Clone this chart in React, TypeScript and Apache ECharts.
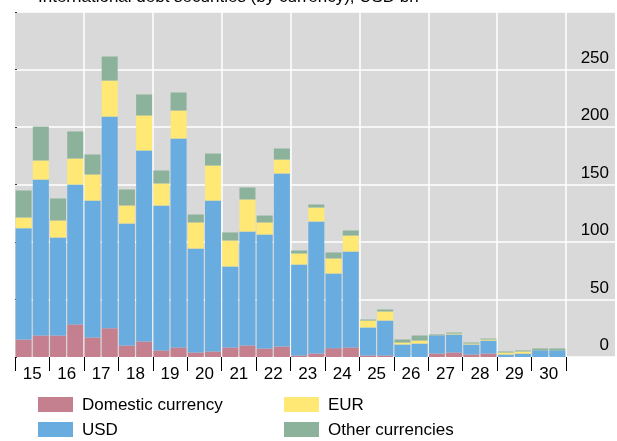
import React, { useEffect, useRef } from "react";
import * as echarts from "echarts";

// Years on the x axis (two half-year bars per year)
const years = [15, 16, 17, 18, 19, 20, 21, 22, 23, 24, 25, 26, 27, 28, 29, 30];

// Stacked segments, USD bn (bottom → top)
const domestic = [15.2, 18.7, 18.7, 28.3, 17, 25, 10, 13.5, 5.7, 8.3, 3.9, 4.8, 8.3, 10, 7.4, 9.1, 1.3, 3, 7.7, 8.3, 1.3, 1.3, 0, 0, 3, 3.9, 2.2, 3, 0, 0, 0, 0];
const usd = [96.8, 135.6, 85.2, 121.7, 119, 184.1, 106.1, 166.1, 126, 181.7, 90.4, 131.2, 70.4, 99.1, 99.1, 150.5, 79.1, 114.8, 64.9, 83.4, 24.4, 30.4, 10.9, 11.7, 15.7, 15.7, 8.7, 11.3, 2.2, 3, 5.7, 5.7];
const eur = [9.3, 16.6, 14.8, 22.6, 22.7, 31.3, 15.6, 30.4, 19.2, 24.3, 22.7, 30.5, 22.6, 27.9, 10.5, 12.1, 9.6, 12.2, 13.1, 13.9, 6, 7.9, 1.7, 2.6, 0, 0.8, 0.8, 0.9, 1.7, 1.8, 0, 0];
const other = [23.5, 29.5, 19.1, 23.5, 17.4, 20.9, 14, 18.3, 11.3, 15.7, 6.9, 10.4, 7, 10.4, 6, 9.6, 2.6, 2.6, 5.2, 4.4, 0.9, 1.7, 2.6, 4.4, 0.9, 0.9, 0.9, 0.8, 0.9, 0.9, 1.7, 1.7];

const yTicks = [0, 50, 100, 150, 200, 250, 300];
const titleText = "International debt securities (by currency), USD bn";

const COLORS = {
  domestic: "#c4808f",
  usd: "#69ace0",
  eur: "#ffe873",
  other: "#8cb29b",
};

export default function App() {
  const ref = useRef<HTMLDivElement>(null);

  useEffect(() => {
    if (!ref.current) return;
    const chart = echarts.init(ref.current, null, { renderer: "svg" });

    const firstYear = years[0];
    const lastYear = years[years.length - 1];
    const yearPx = 551 / years.length;
    const xMin = firstYear;
    const xMax = firstYear + 600 / yearPx;

    // half-year categories for bars
    const halves: string[] = [];
    years.forEach((y) => {
      halves.push(y + "H1", y + "H2");
    });

    const tickVals = [...years, lastYear + 1];
    const labelVals = years.map((y) => y + 0.5);

    const font = "Arial, 'Liberation Sans', sans-serif";

    const mk = (name: string, data: number[], color: string) => ({
      name,
      type: "bar",
      stack: "total",
      xAxisIndex: 0,
      yAxisIndex: 0,
      data,
      barWidth: 16,
      itemStyle: { color },
      emphasis: { disabled: true },
    });

    const yMin = yTicks[0];
    const yMax = yTicks[yTicks.length - 1];

    const legendCommon = {
      orient: "vertical",
      top: 396,
      height: 80,
      width: 240,
      padding: 0,
      itemWidth: 35,
      itemHeight: 15,
      itemGap: 8,
      icon: "rect",
      selectedMode: false,
      textStyle: {
        fontSize: 17,
        lineHeight: 15,
        color: "#000",
        fontFamily: font,
        padding: [0, 0, 0, 4],
      },
    };

    chart.setOption({
      animation: false,
      textStyle: { fontFamily: font },
      graphic: [
        {
          type: "text",
          left: 38,
          top: -12,
          silent: true,
          style: { text: titleText, fontSize: 17, fill: "#000", fontFamily: font },
        },
      ],
      grid: [
        { left: 15, right: 617 - 15 - 551, top: 12, bottom: 84, show: false },
        {
          left: 15,
          right: 2,
          top: 12,
          bottom: 84,
          show: true,
          backgroundColor: "#d9d9d9",
          borderWidth: 0,
        },
      ],
      legend: [
        { ...legendCommon, left: 38, data: ["Domestic currency", "USD"] },
        { ...legendCommon, left: 284, data: ["EUR", "Other currencies"] },
      ],
      xAxis: [
        {
          type: "category",
          gridIndex: 0,
          data: halves,
          boundaryGap: true,
          axisLine: { show: false },
          axisTick: { show: false },
          axisLabel: { show: false },
          splitLine: { show: false },
        },
        {
          type: "value",
          gridIndex: 1,
          min: xMin,
          max: xMax,
          axisLine: { show: false },
          axisTick: {
            show: true,
            customValues: tickVals,
            length: 14,
            lineStyle: { color: "#000", width: 1 },
          },
          axisLabel: {
            show: true,
            customValues: labelVals,
            formatter: (v: number) => String(Math.floor(v)),
            fontSize: 17,
            color: "#000",
            margin: 8,
            fontFamily: font,
          },
          splitLine: { show: false },
        },
        {
          type: "value",
          gridIndex: 1,
          min: xMin,
          max: xMax,
          interval: 2,
          axisLine: { show: false },
          axisTick: { show: false },
          axisLabel: { show: false },
          splitLine: {
            show: true,
            showMinLine: false,
            showMaxLine: false,
            lineStyle: { color: "#ffffff", width: 1.5 },
          },
        },
      ],
      yAxis: [
        {
          type: "value",
          gridIndex: 0,
          min: yMin,
          max: yMax,
          show: false,
        },
        {
          type: "value",
          gridIndex: 1,
          position: "right",
          min: yMin,
          max: yMax,
          interval: 50,
          axisLine: { show: false },
          axisTick: { show: false },
          axisLabel: {
            inside: true,
            showMaxLabel: false,
            margin: 6,
            verticalAlign: "bottom",
            fontSize: 17,
            color: "#000",
            fontFamily: font,
            padding: [0, 0, 4, 0],
          },
          splitLine: { show: true, lineStyle: { color: "#ffffff", width: 1.5 } },
        },
        {
          type: "value",
          gridIndex: 1,
          position: "left",
          min: yMin,
          max: yMax,
          interval: 50,
          axisLine: { show: false },
          axisTick: { show: true, length: 2, inside: true, lineStyle: { color: "#333" } },
          axisLabel: { show: false },
          splitLine: { show: false },
        },
      ],
      series: [
        mk("Domestic currency", domestic, COLORS.domestic),
        mk("USD", usd, COLORS.usd),
        mk("EUR", eur, COLORS.eur),
        mk("Other currencies", other, COLORS.other),
      ],
    });

    return () => chart.dispose();
  }, []);

  return (
    <div
      ref={ref}
      style={{ position: "fixed", left: 0, top: 0, width: 617, height: 441 }}
    />
  );
}
